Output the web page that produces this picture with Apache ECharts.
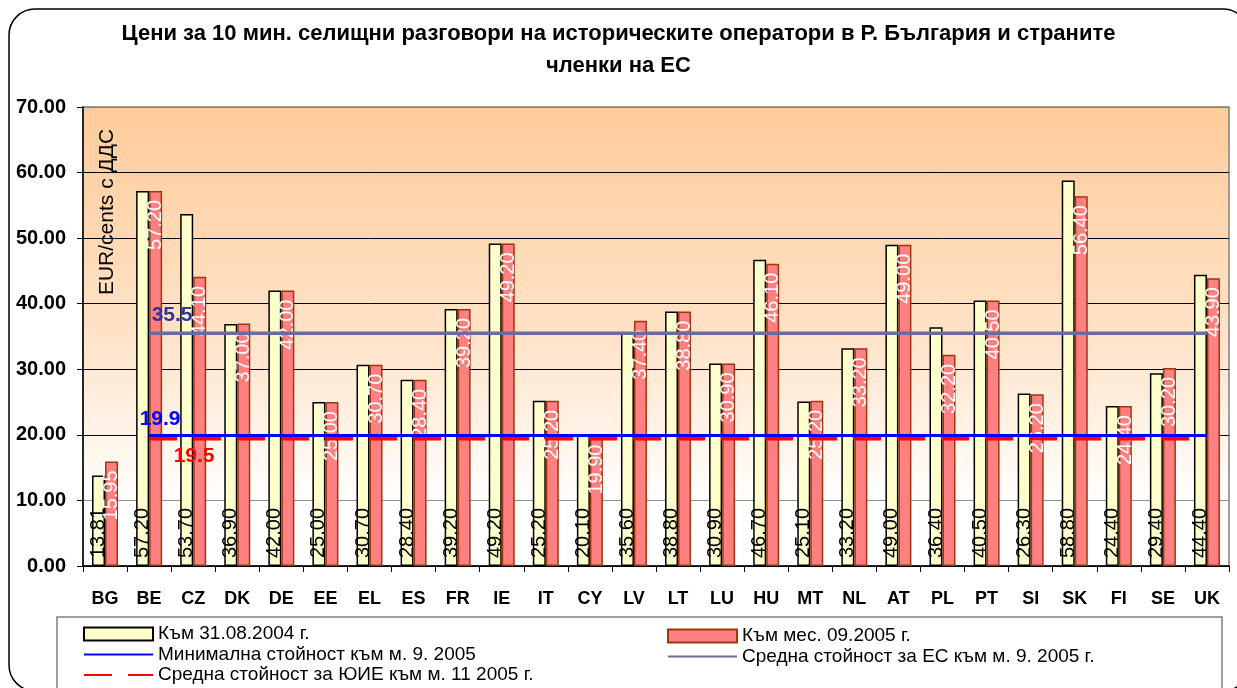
<!DOCTYPE html>
<html>
<head>
<meta charset="utf-8">
<script src="https://cdn.jsdelivr.net/npm/echarts@6/dist/echarts.min.js"></script>
<style>
  html, body { margin: 0; padding: 0; background: #fff; }
  #chart { width: 1237px; height: 688px; }
</style>
</head>
<body>
<div id="chart"></div>
<script>
const countries = ['BG', 'BE', 'CZ', 'DK', 'DE', 'EE', 'EL', 'ES', 'FR', 'IE', 'IT', 'CY', 'LV',
    'LT', 'LU', 'HU', 'MT', 'NL', 'AT', 'PL', 'PT', 'SI', 'SK', 'FI', 'SE', 'UK'];
const prices2004 = [13.81, 57.20, 53.70, 36.90, 42.00, 25.00, 30.70, 28.40, 39.20, 49.20, 25.20, 20.10, 35.60,
    38.80, 30.90, 46.70, 25.10, 33.20, 49.00, 36.40, 40.50, 26.30, 58.80, 24.40, 29.40, 44.40];
const prices2005 = [15.95, 57.20, 44.10, 37.00, 42.00, 25.00, 30.70, 28.40, 39.20, 49.20, 25.20, 19.90, 37.40,
    38.80, 30.90, 46.10, 25.20, 33.20, 49.00, 32.20, 40.50, 26.20, 56.40, 24.40, 30.20, 43.90];
const minValue = 19.9;
const euAverage = 35.5;
const uieAverage = 19.5;
const yTicks = [0, 10, 20, 30, 40, 50, 60, 70];

// хоризонталните линии започват от BE
const flatLine = (v) => countries.map((c, i) => (i === 0 ? null : v));

const chart = echarts.init(document.getElementById('chart'));
const font = 'Arial, "Liberation Sans", sans-serif';
const titleStyle = { fontSize: 22, fontWeight: 'bold', color: '#000', fontFamily: font };
const legendText = { fontSize: 19, color: '#000', lineHeight: 20, fontFamily: font };
const noSymbol = { opacity: 0 };

const lineWithLabel = (value, labelOpt) => flatLine(value).map((v, i) => (i === 1
    ? { value: v, label: Object.assign({ show: true, formatter: String(value), fontSize: 21, fontWeight: 'bold' }, labelOpt) }
    : v));

chart.setOption({
    animation: false,
    textStyle: { fontFamily: font },
    title: [
        { text: 'Цени за 10 мин. селищни разговори на историческите оператори в Р. България и страните',
            left: 'center', top: 23, padding: 0, textStyle: titleStyle },
        { text: 'членки на ЕС', left: 'center', top: 55, padding: 0, textStyle: titleStyle },
    ],
    legend: [
        {
            orient: 'vertical',
            left: 83,
            top: 624,
            padding: 0,
            itemWidth: 69,
            itemHeight: 13,
            itemGap: 0.5,
            textStyle: legendText,
            data: [
                { name: 'Към 31.08.2004 г.', icon: 'rect' },
                { name: 'Минимална стойност към м. 9. 2005', itemStyle: noSymbol },
                { name: 'Средна стойност за ЮИЕ към м. 11 2005 г.', itemStyle: noSymbol },
            ],
        },
        {
            orient: 'vertical',
            left: 667,
            top: 626,
            padding: 0,
            itemWidth: 69,
            itemHeight: 13,
            itemGap: 0.5,
            textStyle: legendText,
            data: [
                { name: 'Към мес. 09.2005 г.', icon: 'rect' },
                { name: 'Средна стойност за ЕС към м. 9. 2005 г.', itemStyle: noSymbol },
            ],
        },
    ],
    grid: {
        left: 83,
        right: 8,
        top: 107,
        bottom: 122,
        show: true,
        borderColor: '#808080',
        borderWidth: 1.5,
        backgroundColor: {
            type: 'linear', x: 0, y: 0, x2: 0, y2: 1,
            colorStops: [
                { offset: 0, color: '#FFCB99' },
                { offset: 0.5, color: '#FFE3C8' },
                { offset: 0.86, color: '#FFFFFF' },
                { offset: 1, color: '#FFFFFF' },
            ],
        },
    },
    xAxis: {
        type: 'category',
        data: countries,
        axisLine: { lineStyle: { color: '#000', width: 1.5 } },
        axisTick: { show: true, length: 6, lineStyle: { color: '#000' } },
        axisLabel: { fontSize: 18, fontWeight: 'bold', color: '#000', margin: 24, interval: 0 },
    },
    yAxis: {
        type: 'value',
        min: yTicks[0],
        max: yTicks[yTicks.length - 1],
        interval: 10,
        axisLine: { show: true, lineStyle: { color: '#000', width: 1.5 } },
        axisTick: { show: true, length: 6, lineStyle: { color: '#000' } },
        axisLabel: {
            fontSize: 20, fontWeight: 'bold', color: '#000', margin: 17,
            formatter: (v) => v.toFixed(2),
        },
        splitLine: {
            lineStyle: { color: ['#000', '#909090', '#000', '#000', '#000', '#000', '#000', '#808080'], width: 1 },
        },
    },
    series: [
        {
            name: 'Към 31.08.2004 г.',
            type: 'bar',
            data: prices2004,
            barWidth: 13,
            barGap: '0%',
            itemStyle: { color: '#FFFFCC', borderColor: '#000', borderWidth: 1.5 },
            label: {
                show: true,
                position: 'insideBottom',
                rotate: 90,
                align: 'left',
                verticalAlign: 'middle',
                distance: 8,
                fontSize: 20,
                color: '#000',
                formatter: (p) => p.value.toFixed(2),
            },
        },
        {
            name: 'Към мес. 09.2005 г.',
            type: 'bar',
            data: prices2005,
            barWidth: 13,
            itemStyle: { color: '#FF8080', borderColor: '#A0360A', borderWidth: 1.5 },
            label: {
                show: true,
                position: 'insideTop',
                rotate: 90,
                align: 'right',
                verticalAlign: 'middle',
                distance: 9,
                fontSize: 20,
                color: '#fff',
                formatter: (p) => p.value.toFixed(2),
            },
        },
        {
            name: 'Средна стойност за ЕС към м. 9. 2005 г.',
            type: 'line',
            data: lineWithLabel(euAverage, { position: 'top', offset: [23, -3], color: '#333399' }),
            symbol: 'circle',
            symbolSize: 0,
            lineStyle: { color: '#6B6B9E', width: 3.5 },
            itemStyle: { color: '#6B6B9E' },
            z: 5,
        },
        {
            name: 'Средна стойност за ЮИЕ към м. 11 2005 г.',
            type: 'line',
            data: lineWithLabel(uieAverage, { position: 'bottom', offset: [45, 3], color: '#FF0000' }),
            symbol: 'circle',
            symbolSize: 0,
            lineStyle: { color: '#FF0000', width: 4.5, type: [28, 16] },
            itemStyle: { color: '#FF0000' },
            z: 5,
        },
        {
            name: 'Минимална стойност към м. 9. 2005',
            type: 'line',
            data: lineWithLabel(minValue, { position: 'top', offset: [11, -1], color: '#0000FF' }),
            symbol: 'circle',
            symbolSize: 0,
            lineStyle: { color: '#0000FF', width: 3 },
            itemStyle: { color: '#0000FF' },
            z: 6,
        },
    ],
    graphic: [
        {
            type: 'rect',
            shape: { x: 9, y: 9, width: 1240, height: 682, r: 26 },
            style: { fill: 'none', stroke: '#000', lineWidth: 1.5 },
            silent: true,
        },
        {
            type: 'rect',
            shape: { x: 57, y: 617, width: 1165, height: 80 },
            style: { fill: 'none', stroke: '#808080', lineWidth: 1.5 },
            silent: true,
        },
        {
            type: 'text',
            x: 107,
            y: 212,
            rotation: Math.PI / 2,
            style: {
                text: 'EUR/cents с ДДС',
                fontSize: 21,
                fontFamily: font,
                fill: '#000',
                align: 'center',
                verticalAlign: 'middle',
            },
            z: 10,
        },
    ],
});
</script>
</body>
</html>
